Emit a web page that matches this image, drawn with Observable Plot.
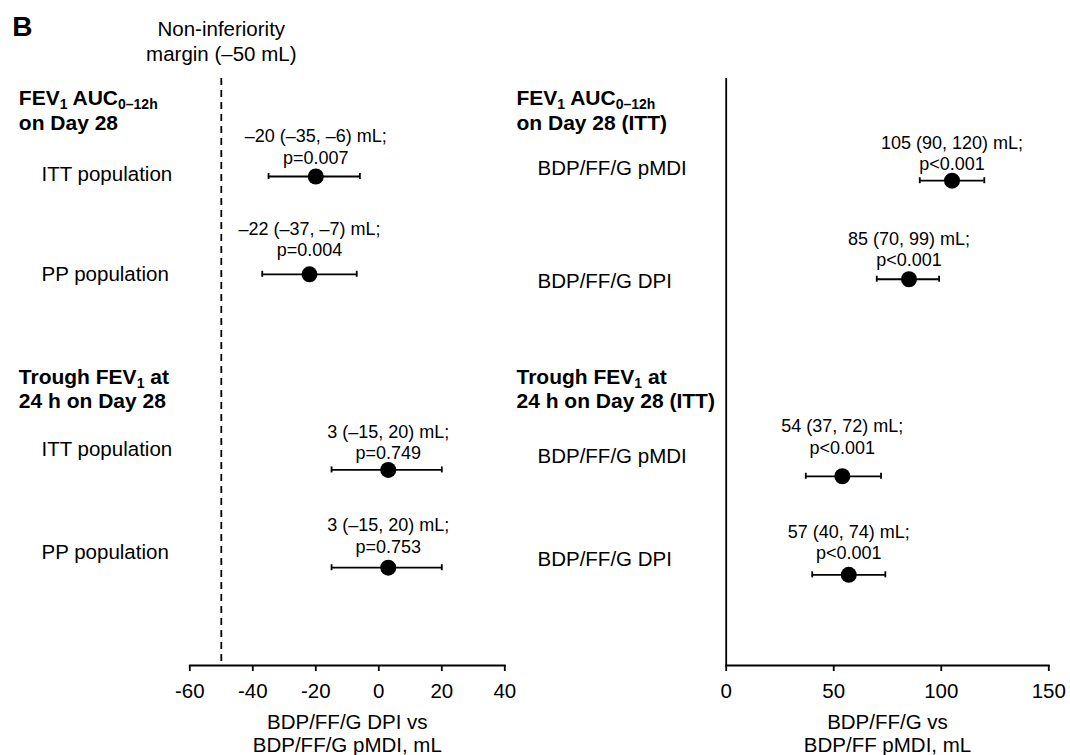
<!DOCTYPE html>
<html>
<head>
<meta charset="utf-8">
<script src="https://cdn.jsdelivr.net/npm/d3@7"></script>
<script src="https://cdn.jsdelivr.net/npm/@observablehq/plot@0.6"></script>
<style>
  html, body { margin: 0; padding: 0; background: #fff; }
  #chart { position: relative; width: 1070px; height: 755px; background: #fff; overflow: hidden; }
  #chart svg { position: absolute; top: 0; }
</style>
</head>
<body>
<div id="chart"></div>
<script>
// ---------- data ----------
const panelLetter = "B";
const marginValue = -50;
const marginLabel = "Non-inferiority\nmargin (–50 mL)";

// left panel: BDP/FF/G DPI vs BDP/FF/G pMDI
const leftHeaders = [["FEV_{1} AUC_{0–12h}", "on Day 28"], ["Trough FEV_{1} at", "24 h on Day 28"]];
const leftLabels = ["ITT population", "PP population", "ITT population", "PP population"];
const leftSlot = [0, 1, 3, 4];
const leftEst = [-20, -22, 3, 3];
const leftLo = [-35, -37, -15, -15];
const leftHi = [-6, -7, 20, 20];
const leftP = ["p=0.007", "p=0.004", "p=0.749", "p=0.753"];
const leftTicks = [-60, -40, -20, 0, 20, 40];
const leftTitle = "BDP/FF/G DPI vs\nBDP/FF/G pMDI, mL";

// right panel: BDP/FF/G vs BDP/FF pMDI
const rightHeaders = [["FEV_{1} AUC_{0–12h}", "on Day 28 (ITT)"], ["Trough FEV_{1} at", "24 h on Day 28 (ITT)"]];
const rightLabels = ["BDP/FF/G pMDI", "BDP/FF/G DPI", "BDP/FF/G pMDI", "BDP/FF/G DPI"];
const rightSlot = [0, 1, 3, 4];
const rightEst = [105, 85, 54, 57];
const rightLo = [90, 70, 37, 40];
const rightHi = [120, 99, 72, 74];
const rightP = ["p<0.001", "p<0.001", "p<0.001", "p<0.001"];
const rightTicks = [0, 50, 100, 150];
const rightTitle = "BDP/FF/G vs\nBDP/FF pMDI, mL";

// ---------- layout (pixels) ----------
const H = 755, TOP = 78, BOTTOM = 90;
const FONT = "'Liberation Sans', Arial, Helvetica, sans-serif";
const SW = 1.8;
const headerBaselines = [[104.5, 129], [383, 407.5]];
const layoutLeft = {labelDy: [-2, 0, -20, -15], noteDy: [-13, -18, -10.5, -15]};
const layoutRight = {labelDy: [-12, 2, -20, -15], noteDy: [-10.5, -13, -22.5, -15.5]};

const fmt = v => String(v).replace("-", "–");
function rows(labels, slot, est, lo, hi, p) {
  return labels.map((label, i) => ({
    label, slot: slot[i], est: est[i], lo: lo[i], hi: hi[i],
    note: `${fmt(est[i])} (${fmt(lo[i])}, ${fmt(hi[i])}) mL;\n${p[i]}`
  }));
}

function headerMarks(headers, dx) {
  const marks = [];
  headers.forEach((lines, g) => lines.forEach((line, l) => {
    marks.push(Plot.text([line], {
      frameAnchor: "top-left", dx, dy: headerBaselines[g][l] - TOP,
      textAnchor: "start", lineAnchor: "bottom", fontWeight: "bold", fontSize: 21
    }));
  }));
  return marks;
}

function labelMarks(data, dx, layout) {
  return data.map((d, i) => Plot.text([d], {
    y: "slot", text: "label", frameAnchor: "left", dx, dy: layout.labelDy[i],
    textAnchor: "start", lineAnchor: "middle", fontSize: 20.5
  }));
}

function forestMarks(data, layout) {
  return [
    Plot.ruleY(data, {y: "slot", x1: "lo", x2: "hi", strokeWidth: SW}),
    Plot.ruleX(data, {x: "lo", y1: "slot", y2: "slot", insetTop: -3, insetBottom: -3, strokeWidth: SW}),
    Plot.ruleX(data, {x: "hi", y1: "slot", y2: "slot", insetTop: -3, insetBottom: -3, strokeWidth: SW}),
    Plot.dot(data, {x: "est", y: "slot", r: 8, fill: "black", stroke: "none"}),
    ...data.map((d, i) => Plot.text([d], {
      x: "est", y: "slot", text: "note", lineAnchor: "bottom", dy: layout.noteDy[i], fontSize: 18, lineHeight: 1.194
    }))
  ];
}

function applySubs(svg) {
  const ns = "http://www.w3.org/2000/svg";
  svg.querySelectorAll("text").forEach(t => {
    if (t.children.length || !t.textContent.includes("_{")) return;
    const s = t.textContent;
    t.textContent = "";
    const re = /_\{([^}]*)\}/g;
    let last = 0, m, shifted = false;
    const add = (str, attrs) => {
      const ts = document.createElementNS(ns, "tspan");
      for (const k in attrs) ts.setAttribute(k, attrs[k]);
      ts.textContent = str;
      t.appendChild(ts);
    };
    while ((m = re.exec(s))) {
      if (m.index > last) { add(s.slice(last, m.index), shifted ? {dy: -4} : {}); shifted = false; }
      add(m[1], {dy: 4, "font-size": 14});
      shifted = true;
      last = re.lastIndex;
    }
    if (last < s.length) add(s.slice(last), shifted ? {dy: -4} : {});
  });
}

const style = {fontFamily: FONT, fontSize: "20.5px", color: "black", background: "transparent", overflow: "visible"};

// ---------- left plot ----------
const leftData = rows(leftLabels, leftSlot, leftEst, leftLo, leftHi, leftP);
const leftML = 189.3, leftW = 510;
const left = Plot.plot({
  width: leftW, height: H,
  marginLeft: leftML, marginRight: leftW - 504.3, marginTop: TOP, marginBottom: BOTTOM,
  style,
  x: {domain: [-60, 40]},
  y: {domain: [0, 4], range: [176, 567.2], axis: null},
  marks: [
    Plot.ruleX([marginValue], {strokeDasharray: "7,5", strokeWidth: SW}),
    Plot.frame({anchor: "bottom", strokeWidth: SW}),
    Plot.axisX({ticks: leftTicks, tickFormat: d => String(d), tickSize: 6, tickPadding: 12, fontSize: 20.5, strokeWidth: SW, label: null}),
    Plot.text([leftTitle], {frameAnchor: "bottom", lineAnchor: "bottom", dy: 86.5, lineHeight: 23 / 20.5, fontSize: 20.5}),
    Plot.text([panelLetter], {frameAnchor: "top-left", dx: 11.7 - leftML, dy: 35 - TOP, textAnchor: "start", lineAnchor: "bottom", fontWeight: "bold", fontSize: 28}),
    Plot.text([marginLabel], {x: marginValue, frameAnchor: "top", lineAnchor: "bottom", dy: 60 - TOP, lineHeight: 25 / 20.5, fontSize: 20.5}),
    ...headerMarks(leftHeaders, 18.3 - leftML),
    ...labelMarks(leftData, 41 - leftML, layoutLeft),
    ...forestMarks(leftData, layoutLeft)
  ]
});
left.style.left = "0px";
applySubs(left);

// ---------- right plot ----------
const rightData = rows(rightLabels, rightSlot, rightEst, rightLo, rightHi, rightP);
const rightX0 = 510, rightW = 560, rightML = 725.7 - rightX0;
const right = Plot.plot({
  width: rightW, height: H,
  marginLeft: rightML, marginRight: rightW - (1048.3 - rightX0), marginTop: TOP, marginBottom: BOTTOM,
  style,
  x: {domain: [0, 150]},
  y: {domain: [0, 4], range: [180.2, 574.3], axis: null},
  marks: [
    Plot.ruleX([0], {strokeWidth: SW}),
    Plot.frame({anchor: "bottom", strokeWidth: SW}),
    Plot.axisX({ticks: rightTicks, tickFormat: d => String(d), tickSize: 6, tickPadding: 12, fontSize: 20.5, strokeWidth: SW, label: null}),
    Plot.text([rightTitle], {frameAnchor: "bottom", lineAnchor: "bottom", dy: 86.5, lineHeight: 23 / 20.5, fontSize: 20.5}),
    ...headerMarks(rightHeaders, 516 - 725.7),
    ...labelMarks(rightData, 537 - 725.7, layoutRight),
    ...forestMarks(rightData, layoutRight)
  ]
});
right.style.left = rightX0 + "px";
applySubs(right);

const chart = document.getElementById("chart");
chart.appendChild(left);
chart.appendChild(right);
</script>
</body>
</html>
